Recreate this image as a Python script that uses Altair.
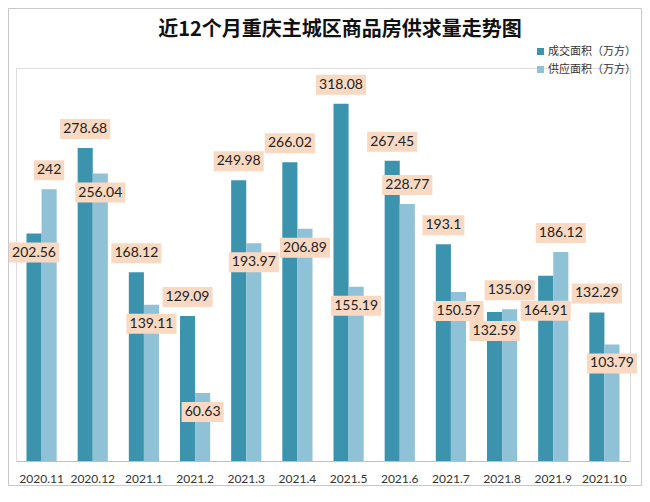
import altair as alt
import pandas as pd

months = ["2020.11", "2020.12", "2021.1", "2021.2", "2021.3", "2021.4",
          "2021.5", "2021.6", "2021.7", "2021.8", "2021.9", "2021.10"]
deal_area = [202.56, 278.68, 168.12, 129.09, 249.98, 266.02,
             318.08, 267.45, 193.1, 132.59, 164.91, 132.29]
supply_area = [242, 256.04, 139.11, 60.63, 193.97, 206.89,
               155.19, 228.77, 150.57, 135.09, 186.12, 103.79]
series_names = ["成交面积（万方）", "供应面积（万方）"]
series_colors = ["#3C93AE", "#8FC2D7"]
title_text = "近12个月重庆主城区商品房供求量走势图"

W, H, YMAX = 614, 393, 350
PXU = H / YMAX  # pixels per data unit


def box_width(label):
    return len(label.replace(".", "")) * 8.1 + (3.6 if "." in label else 0) + 6


# build the table and place value labels: the higher bar's label sits above it,
# the lower bar's label just inside its top, moved down (or above) to avoid overlaps
rows = []
step = W / len(months)
for i, (m, d, s) in enumerate(zip(months, deal_area, supply_area)):
    for j, v in enumerate((d, s)):
        lab = f"{v:g}"
        rows.append({"month": m, "series": series_names[j], "value": v, "label": lab,
                     "cx": step * (i + 0.5) + (-7.55 if j == 0 else 7.55),
                     "bw": box_width(lab), "hi": v == max(d, s)})

placed = []


def collides(r, ypx):
    for p in placed:
        if abs(p["ypx"] - ypx) < 20 and abs(p["cx"] - r["cx"]) < (p["bw"] + r["bw"]) / 2:
            return True
    return False


for r in rows:
    if r["hi"]:
        r["ypx"] = r["value"] * PXU + 19
        placed.append(r)
for r in rows:
    if not r["hi"]:
        y = r["value"] * PXU - 19
        shift = 0
        while collides(r, y) and shift < 20:
            y -= 1
            shift += 1
        if collides(r, y):
            y = r["value"] * PXU + 19
        r["ypx"] = y
        placed.append(r)

df = pd.DataFrame(rows)
df["labelY"] = df["ypx"] / PXU
df["bsize"] = df["bw"] ** 2
df["bpath"] = df["bw"].map(lambda w: f"M-1,{-20 / w:.4f}H1V{20 / w:.4f}H-1Z")
df = df.drop(columns=["cx", "hi", "ypx"])

x_enc = alt.X("month:N", sort=months,
              scale=alt.Scale(paddingInner=0.41, paddingOuter=0.205),
              axis=alt.Axis(title=None, labelAngle=0, ticks=False, domainColor="#BFBFBF",
                            domainWidth=1, labelFont="Lato", labelFontSize=12,
                            labelColor="#333333", labelPadding=12))
xo_enc = alt.XOffset("series:N", sort=series_names,
                     scale=alt.Scale(domain=series_names, paddingInner=0, paddingOuter=0))
y_scale = alt.Scale(domain=[0, YMAX], nice=False, zero=True)

base = alt.Chart(df)

bars = base.mark_bar().encode(
    x=x_enc,
    xOffset=xo_enc,
    y=alt.Y("value:Q", scale=y_scale, axis=None),
    color=alt.Color("series:N", sort=series_names,
                    scale=alt.Scale(domain=series_names, range=series_colors),
                    legend=alt.Legend(title=None, orient="none", legendX=519, legendY=-22,
                                      symbolType="square", symbolSize=49, symbolStrokeWidth=0,
                                      labelFont="Noto Sans CJK SC", labelFontSize=11,
                                      labelColor="#333333", rowPadding=6, labelOffset=2,
                                      padding=0)),
)

boxes = base.mark_point(filled=True, opacity=1, color="#F9D9C2", strokeWidth=0).encode(
    x=x_enc,
    xOffset=xo_enc,
    y=alt.Y("labelY:Q", scale=y_scale, axis=None),
    shape=alt.Shape("bpath:N", scale=None),
    size=alt.Size("bsize:Q", scale=None),
)

texts = base.mark_text(font="Lato", fontSize=14, color="#222222",
                       align="center", baseline="middle").encode(
    x=x_enc,
    xOffset=xo_enc,
    y=alt.Y("labelY:Q", scale=y_scale, axis=None),
    text="label:N",
)

one = pd.DataFrame({"k": [0]})
border = alt.Chart(one).mark_rect(
    fill=None, stroke="#C8C8C8", strokeWidth=1
).encode(x=alt.value(-7.5), x2=alt.value(625.5), y=alt.value(-59.5), y2=alt.value(417.5))

title = alt.Chart(one).mark_text(
    font="Noto Sans CJK SC", fontSize=20, fontWeight="bold", color="#111111",
    align="center", baseline="middle"
).encode(x=alt.value(324), y=alt.value(-38), text=alt.value(title_text))

chart = alt.layer(bars, boxes, texts, border, title).properties(
    width=W,
    height=H,
    autosize=alt.AutoSizeParams(type="none"),
    padding={"left": 8, "top": 60, "right": 12, "bottom": 25},
).configure_view(stroke=None).configure(background="white")

chart.save("out.html", embed_options={"renderer": "svg", "actions": False})
